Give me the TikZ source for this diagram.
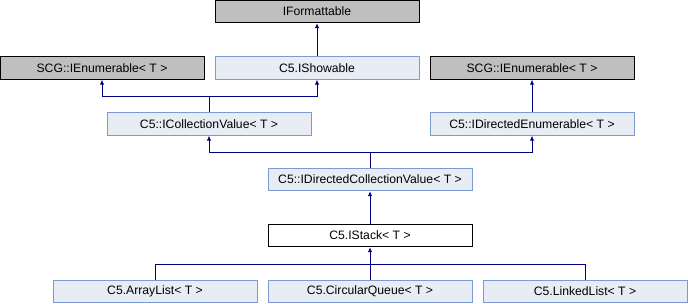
\documentclass[tikz,border=0pt]{standalone}
\usepackage{fontspec}
\setmainfont{Liberation Sans}
\usepackage{xcolor}
\usepackage{tikz}
\usetikzlibrary{arrows.meta}

\definecolor{extgray}{HTML}{BFBFBF}
\definecolor{ifill}{HTML}{E8ECF5}
\definecolor{idraw}{HTML}{7C9AD0}
\definecolor{linkblue}{HTML}{000080}

\begin{document}
\begin{tikzpicture}[x=1pt,y=-1pt,
        box/.style={draw,line width=0.9pt,minimum width=204pt,minimum height=22.5pt,inner sep=0pt,
            font=\fontsize{12.2}{14}\selectfont},
        ext/.style={box,fill=extgray,draw=black},
        iface/.style={box,fill=ifill,draw=idraw},
        cls/.style={box,fill=white,draw=black},
        link/.style={draw=linkblue,line width=0.9pt},
        edge/.style={link,-{Latex[length=5pt,width=4.5pt]}}]
        \useasboundingbox (0,0) rectangle (688,304);

        % top rows
        \node[ext] (fmt) at (317,11.5) {IFormattable};
        \node[ext] (enumL) at (102,68) {SCG::IEnumerable< T >};
        \node[iface] (show) at (317,68) {C5.IShowable};
        \node[ext] (enumR) at (532,68) {SCG::IEnumerable< T >};

        \node[iface] (coll) at (209,124) {C5::ICollectionValue< T >};
        \node[iface] (denum) at (532,124) {C5::IDirectedEnumerable< T >};

        \node[iface] (dcoll) at (370,179.5) {C5::IDirectedCollectionValue< T >};
        \node[cls] (stack) at (370,235.5) {C5.IStack< T >};

        % implementations
        \node[iface] (alist) at (155,291.5) {C5.ArrayList< T >};
        \node[iface] (cqueue) at (370,291.5) {C5.CircularQueue< T >};
        \node[iface] (llist) at (585,291.5) {C5.LinkedList< T >};

        \coordinate (j1) at (209,96);
        \coordinate (j2) at (370,152);
        \coordinate (j3) at (370,264.5);

        \draw[edge] (show.north) -- (fmt.south);
        \draw[edge] (coll.north) -- (j1) -| (enumL.south);
        \draw[edge] (j1) -| (show.south);
        \draw[edge] (denum.north) -- (enumR.south);
        \draw[edge] (dcoll.north) -- (j2) -| (coll.south);
        \draw[edge] (j2) -| (denum.south);
        \draw[edge] (stack.north) -- (dcoll.south);
        \draw[edge] (cqueue.north) -- (stack.south);
        \draw[link] (alist.north) |- (j3) -| (llist.north);
    \end{tikzpicture}
\end{document}
